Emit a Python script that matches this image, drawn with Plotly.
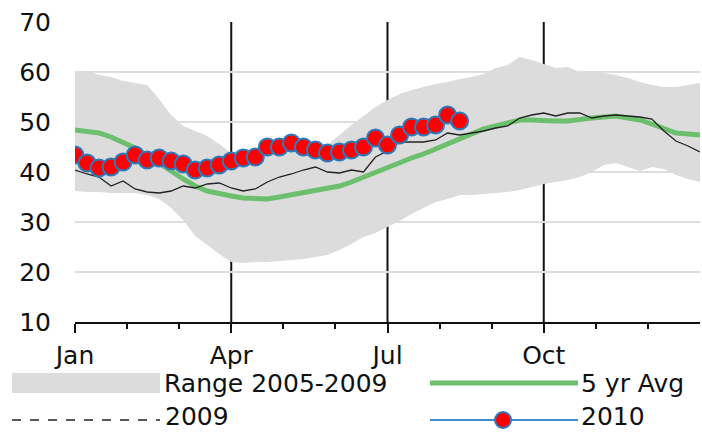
import plotly.graph_objects as go

# --- Data (weekly, week 0 = start of Jan) ---
weeks = list(range(53))
range_low = [36.2, 36.0, 36.0, 35.8, 35.8, 35.8, 35.4, 34.6, 32.8, 30.4,
             27.2, 25.4, 23.6, 22.0, 21.8, 22.0, 22.0, 22.2, 22.4, 22.6,
             23.0, 23.4, 24.4, 25.6, 27.0, 27.8, 29.0, 30.2, 31.6, 32.8,
             34.0, 34.6, 35.4, 35.4, 35.6, 35.8, 36.0, 36.4, 37.0, 37.6,
             38.0, 38.4, 39.0, 40.0, 41.4, 41.8, 41.0, 40.2, 41.0, 40.6,
             39.4, 38.6, 38.0]
range_high = [60.0, 60.2, 59.4, 59.0, 58.2, 57.8, 57.4, 54.6, 51.4, 49.2,
              48.2, 47.2, 45.6, 43.8, 43.0, 43.0, 44.0, 44.0, 44.5, 44.0,
              44.0, 45.4, 47.4, 49.4, 51.2, 53.0, 54.4, 55.6, 56.4, 57.0,
              57.6, 58.0, 58.6, 59.0, 59.6, 60.8, 61.4, 63.0, 62.4, 61.6,
              60.8, 61.0, 60.0, 60.0, 59.8, 59.4, 58.8, 58.0, 57.4, 57.0,
              57.0, 57.4, 57.8]
avg_5yr = [48.4, 48.2, 47.8, 47.0, 46.0, 44.8, 43.2, 41.8, 40.2, 38.6,
           37.2, 36.2, 35.6, 35.2, 34.8, 34.6, 34.6, 35.0, 35.4, 35.8,
           36.2, 36.8, 37.2, 38.0, 39.0, 39.8, 40.8, 41.8, 42.8, 43.6,
           44.6, 45.6, 46.8, 47.8, 48.6, 49.2, 49.8, 50.4, 50.4, 50.2,
           50.2, 50.2, 50.6, 50.8, 51.0, 51.2, 50.8, 50.4, 49.6, 48.6,
           47.8, 47.6, 47.4]
y2009 = [40.4, 39.6, 39.0, 37.2, 38.2, 36.6, 36.0, 35.8, 36.2, 37.2,
         36.8, 37.6, 37.8, 36.8, 36.2, 36.6, 38.0, 39.0, 39.6, 40.4,
         41.0, 40.0, 39.8, 40.4, 40.0, 43.0, 44.2, 46.0, 46.0, 46.0,
         46.4, 47.8, 47.4, 47.8, 48.2, 48.8, 49.2, 50.8, 51.4, 51.8,
         51.2, 51.8, 51.8, 50.8, 51.2, 51.4, 51.2, 51.0, 50.6, 48.2,
         46.2, 45.2, 44.0]
y2010 = [43.4, 41.8, 40.8, 41.0, 42.0, 43.4, 42.4, 42.8, 42.2, 41.6,
         40.4, 40.8, 41.4, 42.2, 42.8, 43.0, 45.0, 45.0, 45.8, 45.0,
         44.4, 43.8, 44.0, 44.4, 45.0, 46.8, 45.4, 47.4, 49.0, 49.0,
         49.4, 51.4, 50.2]
weeks_2010 = weeks[:len(y2010)]

quarter_labels = ["Jan", "Apr", "Jul", "Oct"]
quarter_weeks = [0, 13, 26, 39]
month_weeks = [k * 52 / 12 for k in range(12)]

FONT = "DejaVu Sans"
GREEN = "#6cbf6c"
BAND = "#dcdcdc"

fig = go.Figure()

# --- Range band ---
fig.add_trace(go.Scatter(x=weeks, y=range_high, mode="lines",
                         line=dict(width=0, color=BAND), showlegend=False))
fig.add_trace(go.Scatter(x=weeks, y=range_low, mode="lines", fill="tonexty",
                         fillcolor=BAND, line=dict(width=0, color=BAND),
                         showlegend=False))

# --- 5 yr avg ---
fig.add_trace(go.Scatter(x=weeks, y=avg_5yr, mode="lines",
                         line=dict(color=GREEN, width=5), showlegend=False))

# --- 2009 ---
fig.add_trace(go.Scatter(x=weeks, y=y2009, mode="lines",
                         line=dict(color="#222222", width=1.3), showlegend=False))

# --- 2010 ---
fig.add_trace(go.Scatter(x=weeks_2010, y=y2010, mode="lines+markers",
                         line=dict(color="#3a8fd0", width=1.5),
                         marker=dict(size=17, color="#ff0000",
                                     line=dict(color="#2b7bbd", width=2)),
                         showlegend=False))

# --- vertical black gridlines at quarters (not at Jan) ---
for q in quarter_weeks[1:]:
    fig.add_shape(type="line", x0=q, x1=q, y0=10, y1=70, xref="x", yref="y",
                  line=dict(color="#111111", width=2), layer="below")

# --- hand-drawn legend (px -> paper helpers) ---
L, T, W, H = 75, 22, 625, 300
def px(xp):
    return (xp - L) / W
def py(yp):
    return (T + H - yp) / H

row1, row2 = 383, 418
fig.add_shape(type="rect", xref="paper", yref="paper",
              x0=px(12), x1=px(160), y0=py(393), y1=py(373),
              fillcolor=BAND, line=dict(width=0))
fig.add_shape(type="line", xref="paper", yref="paper",
              x0=px(430), x1=px(578), y0=py(row1), y1=py(row1),
              line=dict(color=GREEN, width=5))
fig.add_shape(type="line", xref="paper", yref="paper",
              x0=px(12), x1=px(160), y0=py(row2 + 2), y1=py(row2 + 2),
              line=dict(color="#222222", width=1.3, dash="dash"))
fig.add_shape(type="line", xref="paper", yref="paper",
              x0=px(430), x1=px(578), y0=py(row2 + 2), y1=py(row2 + 2),
              line=dict(color="#3a8fd0", width=2))
fig.add_shape(type="circle", xref="paper", yref="paper",
              x0=px(495), x1=px(511), y0=py(row2 + 10), y1=py(row2 - 6),
              fillcolor="#ff0000", line=dict(color="#2b7bbd", width=2))

legend_texts = [("Range 2005-2009", 163, row1, "middle"),
                ("5 yr Avg", 580, row1, "middle"),
                ("2009", 164, 432, "bottom"),
                ("2010", 580, 432, "bottom")]
for txt, xp, yp, anchor in legend_texts:
    fig.add_annotation(text=txt, xref="paper", yref="paper", x=px(xp), y=py(yp),
                       xanchor="left", yanchor=anchor, showarrow=False,
                       borderpad=0,
                       font=dict(family=FONT, size=25, color="#111111"))

fig.update_layout(
    width=702, height=432,
    margin=dict(l=L, r=702 - L - W, t=T, b=432 - T - H),
    plot_bgcolor="white", paper_bgcolor="white",
    font=dict(family=FONT, size=25, color="#111111"),
    xaxis=dict(range=[0, 52], tickmode="array", tickvals=quarter_weeks,
               ticktext=quarter_labels, showgrid=False, zeroline=False,
               showline=True, linecolor="#111111", linewidth=2,
               ticks="outside", ticklen=9, tickwidth=2, tickcolor="#111111",
               ticklabelstandoff=1,
               minor=dict(tickmode="array", tickvals=month_weeks, ticks="outside",
                          ticklen=5, tickwidth=2, tickcolor="#111111",
                          showgrid=False)),
    yaxis=dict(range=[10, 70], dtick=10, showgrid=True, gridcolor="#dedede",
               gridwidth=1.5, zeroline=False, showline=False, ticks="",
               ticklabelstandoff=23),
)

# remove the default page margin so the 702x432 figure fills the window
fig.write_html("out.html", config={"displayModeBar": False},
               post_script="document.body.style.margin='0px';"
                           "document.body.style.overflow='hidden';")
